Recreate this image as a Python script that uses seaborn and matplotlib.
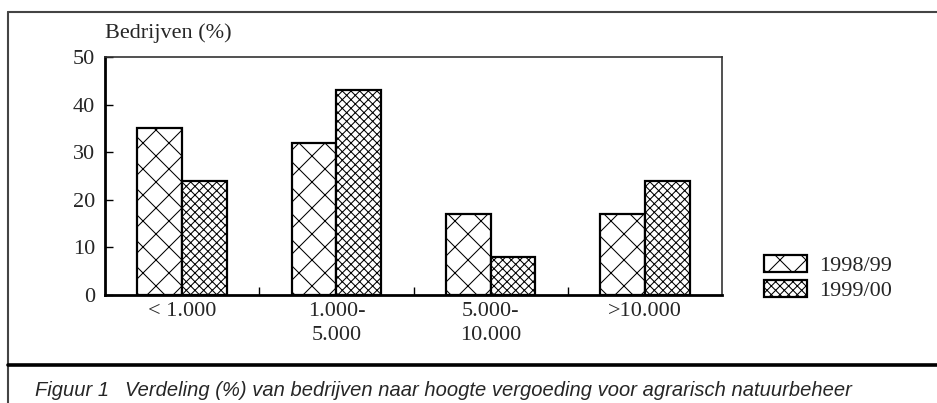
import matplotlib
matplotlib.use("Agg")
import matplotlib.pyplot as plt
import seaborn as sns
import pandas as pd
from matplotlib.patches import Patch
from matplotlib.lines import Line2D

categories = ["< 1.000", "1.000-\n5.000", "5.000-\n10.000", ">10.000"]
series_names = ["1998/99", "1999/00"]
values_9899 = [35, 32, 17, 17]
values_9900 = [24, 43, 8, 24]
yticks = [0, 10, 20, 30, 40, 50]

df = pd.DataFrame({
    "cat": categories * 2,
    "val": values_9899 + values_9900,
    "year": [series_names[0]] * 4 + [series_names[1]] * 4,
})

DPI = 78
k = 100 / DPI  # scale so sizes look as at 100 dpi

sns.set_theme(style="white")
plt.rcParams["font.family"] = ["Liberation Serif", "DejaVu Serif"]
plt.rcParams["hatch.linewidth"] = 0.75 * k

FS = 16 * k
W, H = 937, 403
fig = plt.figure(figsize=(W / DPI, H / DPI), dpi=DPI)
ax = fig.add_axes([105 / W, 1 - 295 / H, (722 - 105) / W, (295 - 57) / H])

sns.barplot(data=df, x="cat", y="val", hue="year", order=categories,
            hue_order=series_names, palette=["white", "white"],
            edgecolor="black", linewidth=1.6 * k, width=0.58, gap=0,
            legend=False, ax=ax)
hatches = ["x", "xxx"]
for cont, h in zip(ax.containers, hatches):
    for bar in cont:
        bar.set_hatch(h)

ax.set_xlim(-0.5, 3.5)
ax.set_ylim(0, 50)
ax.set_yticks(yticks)
ax.set_xlabel("")
ax.set_ylabel("")
ax.tick_params(axis="y", direction="in", length=6 * k, width=1 * k, color="black",
               labelsize=FS, pad=7 * k, left=True)
ax.tick_params(axis="x", which="major", length=0, labelsize=FS, pad=5 * k)
ax.set_xticks([0.5, 1.5, 2.5], minor=True)
ax.tick_params(axis="x", which="minor", direction="in", length=6 * k, width=1 * k,
               color="black", bottom=True)
for lab in ax.get_xticklabels():
    lab.set_linespacing(1.35)
    lab.set_verticalalignment("top")

for s in ["left", "bottom"]:
    ax.spines[s].set_color("black")
    ax.spines[s].set_linewidth(2 * k)
for s in ["top", "right"]:
    ax.spines[s].set_color("#333333")
    ax.spines[s].set_linewidth(1.2 * k)
    ax.spines[s].set_visible(True)

fig.text(105 / W, 1 - 33 / H, "Bedrijven (%)", ha="left", va="center", fontsize=FS)

handles = [Patch(facecolor="white", edgecolor="black", hatch=h, linewidth=1.6 * k)
           for h in hatches]
fig.legend(handles=handles, labels=series_names, loc="upper left",
           bbox_to_anchor=(755 / W, 1 - 246 / H), frameon=False, fontsize=FS,
           handlelength=1.95, handleheight=0.8, handletextpad=0.55,
           labelspacing=0.18, borderaxespad=0)

# outer frame
fig.add_artist(Line2D([8 / W, 8 / W], [0, 1 - 12 / H], transform=fig.transFigure,
                      color="#444444", lw=1.5 * k))
fig.add_artist(Line2D([8 / W, 1], [1 - 12 / H, 1 - 12 / H], transform=fig.transFigure,
                      color="#444444", lw=1.5 * k))
fig.add_artist(Line2D([8 / W, 1], [1 - 365 / H, 1 - 365 / H], transform=fig.transFigure,
                      color="black", lw=2.6 * k))

cap_font = dict(family=["Liberation Sans", "DejaVu Sans"], style="italic", fontsize=14.5 * k)
fig.text(35 / W, 1 - 391 / H, "Figuur 1", ha="left", va="center", **cap_font)
fig.text(125 / W, 1 - 391 / H,
         "Verdeling (%) van bedrijven naar hoogte vergoeding voor agrarisch natuurbeheer",
         ha="left", va="center", **cap_font)

fig.savefig("out.png", dpi=DPI)
